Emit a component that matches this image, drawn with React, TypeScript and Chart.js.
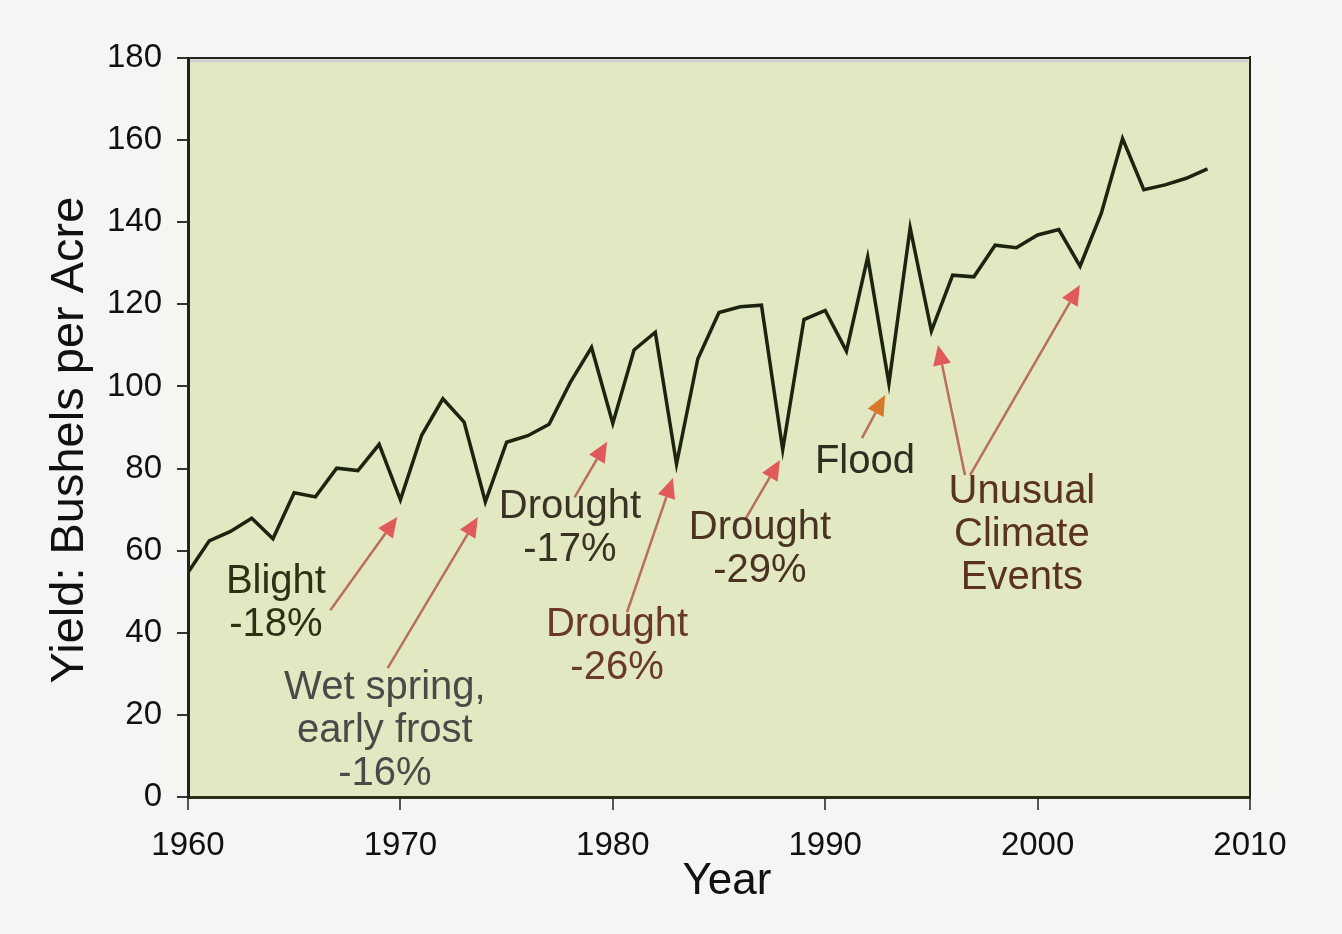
import React, { useEffect, useRef } from "react";
import { Chart, registerables } from "chart.js";

Chart.register(...registerables);

const years = [
  1960, 1961, 1962, 1963, 1964, 1965, 1966, 1967, 1968, 1969,
  1970, 1971, 1972, 1973, 1974, 1975, 1976, 1977, 1978, 1979,
  1980, 1981, 1982, 1983, 1984, 1985, 1986, 1987, 1988, 1989,
  1990, 1991, 1992, 1993, 1994, 1995, 1996, 1997, 1998, 1999,
  2000, 2001, 2002, 2003, 2004, 2005, 2006, 2007, 2008,
];
const yields = [
  54.7, 62.4, 64.7, 67.9, 62.9, 74.1, 73.1, 80.1, 79.5, 85.9,
  72.4, 88.1, 97.0, 91.3, 71.9, 86.4, 88.0, 90.8, 101.0, 109.5,
  91.0, 108.9, 113.2, 81.1, 106.7, 118.0, 119.4, 119.8, 84.6, 116.3,
  118.5, 108.6, 131.5, 100.7, 138.6, 113.5, 127.1, 126.7, 134.4, 133.8,
  136.9, 138.2, 129.3, 142.2, 160.4, 147.9, 149.1, 150.7, 153.0,
];
const xTickValues = [1960, 1970, 1980, 1990, 2000, 2010];
const yTickValues = [0, 20, 40, 60, 80, 100, 120, 140, 160, 180];

// annotation labels: text lines, anchor (year, yield) of first line centre
const noteLines = [
  ["Blight", "-18%"],
  ["Wet spring,", "early frost", "-16%"],
  ["Drought", "-17%"],
  ["Drought", "-26%"],
  ["Drought", "-29%"],
  ["Flood"],
  ["Unusual", "Climate", "Events"],
];
const noteYears = [1964.14, 1969.27, 1977.98, 1980.2, 1986.93, 1991.87, 1999.26];
const noteValues = [52.4, 26.5, 70.6, 41.9, 65.5, 81.6, 74.3];
const noteColors = ["#2c3116", "#4a4a48", "#3a3222", "#6a3a26", "#4a3322", "#2e2e22", "#5a3220"];

// arrows: tail (year, value) -> tip (year, value)
const arrowTailYears = [1966.7, 1969.4, 1978.2, 1980.67, 1986.22, 1991.73, 1996.58, 1996.82];
const arrowTailValues = [45.5, 31.4, 73.0, 45.0, 67.5, 87.4, 78.4, 78.4];
const arrowTipYears = [1969.85, 1973.65, 1979.73, 1982.83, 1987.87, 1992.82, 1995.31, 2001.99];
const arrowTipValues = [68.2, 68.2, 86.5, 77.7, 82.1, 97.9, 110.1, 124.7];
const arrowHeadColors = ["#e05a5a", "#e05a5a", "#e05a5a", "#e05a5a", "#e05a5a", "#d8782a", "#e05a5a", "#e05a5a"];

const FONT = '"Liberation Sans", Arial, Helvetica, sans-serif';

const decorPlugin = {
  id: "decor",
  beforeDraw(chart: any) {
    const { ctx, chartArea } = chart;
    ctx.save();
    ctx.fillStyle = "#f5f5f3";
    ctx.fillRect(0, 0, chart.width, chart.height);
    ctx.fillStyle = "#e2e9c2";
    ctx.fillRect(chartArea.left, chartArea.top, chartArea.right - chartArea.left, chartArea.bottom - chartArea.top);
    ctx.restore();
  },
  afterDraw(chart: any) {
    const { ctx, chartArea } = chart;
    const xs = chart.scales.x;
    const ys = chart.scales.y;
    ctx.save();
    // frame top and right
    ctx.strokeStyle = "#222";
    ctx.lineWidth = 2;
    ctx.beginPath();
    ctx.moveTo(chartArea.left, chartArea.top);
    ctx.lineTo(chartArea.right, chartArea.top);
    ctx.moveTo(chartArea.right, chartArea.top - 2);
    ctx.lineTo(chartArea.right, chartArea.bottom + 2);
    ctx.stroke();
    ctx.strokeStyle = "#cfcfcf";
    ctx.lineWidth = 3;
    ctx.beginPath();
    ctx.moveTo(chartArea.left + 2, chartArea.top + 3);
    ctx.lineTo(chartArea.right - 2, chartArea.top + 3);
    ctx.stroke();

    // arrows
    for (let i = 0; i < arrowTailYears.length; i++) {
      const x0 = xs.getPixelForValue(arrowTailYears[i]);
      const y0 = ys.getPixelForValue(arrowTailValues[i]);
      const x1 = xs.getPixelForValue(arrowTipYears[i]);
      const y1 = ys.getPixelForValue(arrowTipValues[i]);
      const ang = Math.atan2(y1 - y0, x1 - x0);
      const hl = 20, hw = 9;
      const bx = x1 - hl * Math.cos(ang);
      const by = y1 - hl * Math.sin(ang);
      ctx.strokeStyle = "#b8705a";
      ctx.lineWidth = 2.5;
      ctx.beginPath();
      ctx.moveTo(x0, y0);
      ctx.lineTo(bx, by);
      ctx.stroke();
      ctx.fillStyle = arrowHeadColors[i];
      ctx.beginPath();
      ctx.moveTo(x1, y1);
      ctx.lineTo(bx + hw * Math.sin(ang), by - hw * Math.cos(ang));
      ctx.lineTo(bx - hw * Math.sin(ang), by + hw * Math.cos(ang));
      ctx.closePath();
      ctx.fill();
    }

    // notes
    ctx.font = `40px ${FONT}`;
    ctx.textAlign = "center";
    ctx.textBaseline = "middle";
    for (let i = 0; i < noteLines.length; i++) {
      const cx = xs.getPixelForValue(noteYears[i]);
      const cy = ys.getPixelForValue(noteValues[i]);
      ctx.fillStyle = noteColors[i];
      noteLines[i].forEach((t, j) => {
        ctx.fillText(t, cx, cy + j * 43);
      });
    }

    // axis titles
    ctx.fillStyle = "#111";
    ctx.font = `44px ${FONT}`;
    ctx.textAlign = "center";
    ctx.textBaseline = "middle";
    ctx.fillText("Year", 727, 882);
    ctx.save();
    ctx.translate(70, 440);
    ctx.rotate(-Math.PI / 2);
    ctx.font = `47px ${FONT}`;
    ctx.fillText("Yield: Bushels per Acre", 0, 0);
    ctx.restore();
    ctx.restore();
  },
};

export default function App() {
  const ref = useRef<HTMLCanvasElement | null>(null);
  useEffect(() => {
    document.body.style.margin = "0";
    document.body.style.background = "#f5f5f3";
    const canvas = ref.current;
    if (!canvas) return;
    const chart = new Chart(canvas, {
      type: "line",
      data: {
        datasets: [
          {
            data: years.map((y, i) => ({ x: y, y: yields[i] })),
            borderColor: "#1c2410",
            borderWidth: 3.5,
            pointRadius: 0,
            tension: 0,
            fill: false,
          },
        ],
      },
      options: {
        animation: false,
        responsive: false,
        devicePixelRatio: 1,
        layout: { padding: { left: 0, top: 58, right: 92, bottom: 0 } },
        plugins: { legend: { display: false }, tooltip: { enabled: false } },
        scales: {
          x: {
            type: "linear",
            min: 1960,
            max: 2010,
            afterFit: (s: any) => { s.height = 137; },
            afterBuildTicks: (s: any) => { s.ticks = xTickValues.map((v) => ({ value: v })); },
            ticks: {
              color: "#111",
              font: { family: FONT, size: 33 },
              padding: 16,
              maxRotation: 0,
              callback: (v: any) => String(v),
            },
            grid: { drawOnChartArea: false, drawTicks: true, tickLength: 13, color: "#555", lineWidth: 2 },
            border: { display: true, color: "#2a2e14", width: 3 },
          },
          y: {
            min: 0,
            max: 180,
            afterFit: (s: any) => { s.width = 188; },
            afterBuildTicks: (s: any) => { s.ticks = yTickValues.map((v) => ({ value: v })); },
            ticks: {
              color: "#111",
              font: { family: FONT, size: 33 },
              padding: 15,
              callback: (v: any) => String(v),
            },
            grid: { drawOnChartArea: false, drawTicks: true, tickLength: 11, color: "#333", lineWidth: 2 },
            border: { display: true, color: "#222", width: 3 },
          },
        },
      },
      plugins: [decorPlugin],
    } as any);
    return () => chart.destroy();
  }, []);
  return <canvas ref={ref} width={1342} height={934} style={{ display: "block" }} />;
}
